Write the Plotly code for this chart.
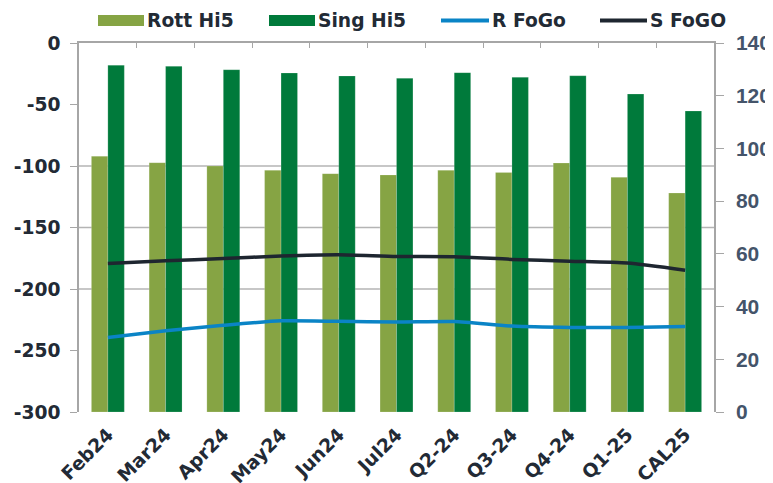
import plotly.graph_objects as go

# ---- data ----
categories = ["Feb24", "Mar24", "Apr24", "May24", "Jun24", "Jul24",
              "Q2-24", "Q3-24", "Q4-24", "Q1-25", "CAL25"]
rott_hi5 = [-92, -97.3, -100, -103.5, -106.2, -107.3, -103.5, -105.2, -97.6, -109.2, -122]
sing_hi5 = [-18, -19, -21.7, -24.4, -26.8, -28.7, -24.1, -27.9, -26.6, -41.5, -55.3]
r_fogo = [28.3, 30.8, 32.9, 34.6, 34.4, 34.1, 34.3, 32.6, 32.1, 32.1, 32.4]
s_fogo = [56.3, 57.4, 58.2, 59.2, 59.7, 59.0, 58.9, 57.9, 57.2, 56.5, 53.8]
left_tickvals = [0, -50, -100, -150, -200, -250, -300]
left_ticktext = ["0", "-50", "-100", "-150", "-200", "-250", "-300"]
right_tickvals = [0, 20, 40, 60, 80, 100, 120, 140]
right_ticktext = ["0", "20", "40", "60", "80", "100", "120", "140"]
grid_vals = [-100, -150, -200]

# ---- style ----
# the page body adds an 8px margin, so the figure is shrunk by that much
OFF = 8
W, H = 773 - OFF, 483 - OFF
ML, MR, MT, MB = 79 - OFF, 59, 43 - OFF, 71
LEFT_MIN, LEFT_MAX = -300, 0
RIGHT_MIN, RIGHT_MAX = 0, 140
C_ROTT = "#86A444"
C_SING = "#007A3B"
C_R = "#0A84C6"
C_S = "#1E2630"
DARK = "#222A35"
SLATE = "#44546A"
AXIS_GRAY = "#A6A6A6"
GRID_GRAY = "#B4B4B4"
FONT = "DejaVu Sans"
FS = 18.7

fig = go.Figure()

# bars grow up from the bottom of the left axis
fig.add_trace(go.Bar(
    x=categories, y=[v - LEFT_MIN for v in rott_hi5], base=LEFT_MIN,
    name="Rott Hi5", marker=dict(color=C_ROTT, line=dict(width=0.6, color="rgba(255,255,255,0.3)")),
    showlegend=False, xaxis="x", yaxis="y"))
fig.add_trace(go.Bar(
    x=categories, y=[v - LEFT_MIN for v in sing_hi5], base=LEFT_MIN,
    name="Sing Hi5", marker=dict(color=C_SING, line=dict(width=0.6, color="rgba(255,255,255,0.3)")),
    showlegend=False, xaxis="x", yaxis="y"))

fig.add_trace(go.Scatter(
    x=categories, y=r_fogo, name="R FoGo", mode="lines",
    line=dict(color=C_R, width=3.5, shape="spline", smoothing=0.6),
    showlegend=False, xaxis="x2", yaxis="y2"))
fig.add_trace(go.Scatter(
    x=categories, y=s_fogo, name="S FoGO", mode="lines",
    line=dict(color=C_S, width=3.5, shape="spline", smoothing=0.6),
    showlegend=False, xaxis="x2", yaxis="y2"))

# horizontal gridlines (only at selected values, as in the original)
for gv in grid_vals:
    fig.add_shape(type="line", xref="x domain", yref="y", x0=0, x1=1, y0=gv, y1=gv,
                  layer="below", line=dict(color=GRID_GRAY, width=1.5))

fig.update_layout(
    width=W, height=H,
    margin=dict(l=ML, r=MR, t=MT, b=MB, pad=0, autoexpand=False),
    paper_bgcolor="white", plot_bgcolor="rgba(0,0,0,0)",
    barmode="group", bargap=0.43, bargroupgap=0,
    font=dict(family=FONT, size=FS, color=DARK),
    xaxis=dict(
        type="category", categoryorder="array", categoryarray=categories,
        range=[-0.5, len(categories) - 0.5], automargin=False,
        showline=False, showgrid=False, zeroline=False, ticks="",
        tickangle=-45, ticklabelstandoff=7,
        tickfont=dict(family=FONT, size=FS, color=DARK, weight="bold"),
    ),
    xaxis2=dict(
        type="category", categoryorder="array", categoryarray=categories,
        range=[-0.5, len(categories) - 0.5], automargin=False,
        overlaying="x", side="top", anchor="y2",
        showline=True, linecolor=AXIS_GRAY, linewidth=1.5,
        ticks="inside", tickson="boundaries", ticklen=5, tickcolor=AXIS_GRAY,
        showticklabels=False, showgrid=False, zeroline=False,
    ),
    yaxis=dict(
        range=[LEFT_MIN, LEFT_MAX], tickvals=left_tickvals, ticktext=left_ticktext,
        automargin=False,
        showline=True, linecolor=AXIS_GRAY, linewidth=1.5,
        ticks="outside", ticklen=7, tickcolor=AXIS_GRAY,
        showgrid=False, zeroline=False, ticklabelstandoff=6,
        tickfont=dict(family=FONT, size=FS, color=DARK, weight="bold"),
    ),
    yaxis2=dict(
        range=[RIGHT_MIN, RIGHT_MAX], tickvals=right_tickvals, ticktext=right_ticktext,
        automargin=False,
        overlaying="y", side="right", anchor="x2",
        showline=True, linecolor=AXIS_GRAY, linewidth=1.5,
        ticks="outside", ticklen=8, tickcolor=AXIS_GRAY,
        showgrid=False, zeroline=False, ticklabelstandoff=8,
        tickfont=dict(family="Liberation Sans", size=21, color=SLATE, weight="bold"),
    ),
)

# ---- legend (manual, Excel-like wide swatches) ----
PW = W - ML - MR
PH = H - MT - MB

def px_x(p):
    return (p - OFF - ML) / PW

def px_y(p):
    return (H - MB - (p - OFF)) / PH

legend_items = [
    ("Rott Hi5", "bar", C_ROTT, 98, 144),
    ("Sing Hi5", "bar", C_SING, 269, 315),
    ("R FoGo", "line", C_R, 441, 489),
    ("S FoGO", "line", C_S, 600, 647),
]
LEG_CY = 20.5
for name, kind, col, x0, x1 in legend_items:
    if kind == "bar":
        fig.add_shape(type="rect", xref="paper", yref="paper",
                      x0=px_x(x0), x1=px_x(x1), y0=px_y(LEG_CY + 5.5), y1=px_y(LEG_CY - 5.5),
                      fillcolor=col, line=dict(width=0))
    else:
        fig.add_shape(type="line", xref="paper", yref="paper",
                      x0=px_x(x0), x1=px_x(x1), y0=px_y(LEG_CY), y1=px_y(LEG_CY),
                      line=dict(color=col, width=4))
    fig.add_annotation(text=name, xref="paper", yref="paper",
                       x=px_x(x1 + 2), y=px_y(LEG_CY), xanchor="left", yanchor="middle",
                       showarrow=False, borderpad=0,
                       font=dict(family=FONT, size=FS, color=DARK, weight="bold"))

fig.write_html("out.html")
